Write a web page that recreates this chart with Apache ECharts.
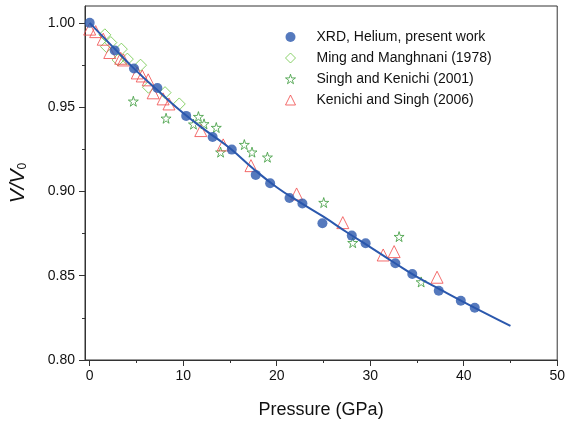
<!DOCTYPE html>
<html><head><meta charset="utf-8">
<script src="https://cdn.jsdelivr.net/npm/echarts@6/dist/echarts.min.js"></script>
<style>html,body{margin:0;padding:0;background:#fff}#c{width:568px;height:427px}</style>
</head><body><div id="c"></div>
<script>
// XRD, Helium, present work
const xrdP = [0, 2.68, 4.74, 7.24, 10.32, 13.15, 15.20, 17.76, 19.30, 21.37, 22.75, 24.89, 28.03, 29.51, 32.69, 34.50, 37.33, 39.69, 41.18];
const xrdV = [1.000, 0.9836, 0.9729, 0.9614, 0.9448, 0.9323, 0.9248, 0.9098, 0.9049, 0.8961, 0.8928, 0.8811, 0.8738, 0.8693, 0.8574, 0.8510, 0.8411, 0.8352, 0.8310];
// Fitted curve
const fitP = [0, 2.5, 5, 7.5, 10, 12.5, 15, 17.5, 20, 22.5, 25, 27.5, 30, 32.5, 35, 37.5, 40, 42.5, 45];
const fitV = [1.000, 0.9856, 0.9715, 0.9588, 0.9465, 0.9358, 0.9256, 0.9135, 0.9025, 0.8935, 0.8850, 0.8758, 0.8670, 0.8580, 0.8493, 0.8418, 0.8344, 0.8272, 0.8202];
// Ming and Manghnani (1978)
const mingP = [1.62, 2.26, 1.80, 3.39, 3.04, 4.03, 5.44, 6.29, 8.06, 9.58];
const mingV = [0.9929, 0.9883, 0.9859, 0.9844, 0.9780, 0.9785, 0.9749, 0.9618, 0.9586, 0.9519];
// Singh and Kenichi (2001)
const singhP = [4.67, 8.17, 11.63, 11.10, 12.23, 13.54, 14.00, 16.54, 17.36, 19.01, 25.03, 28.13, 33.09, 35.45];
const singhV = [0.9535, 0.9434, 0.9444, 0.9399, 0.9401, 0.9379, 0.9233, 0.9278, 0.9233, 0.9203, 0.8934, 0.8696, 0.8732, 0.8463];
// Kenichi and Singh (2006)
const kenP = [0, 0.64, 1.45, 2.15, 3.32, 3.61, 5.09, 5.62, 6.26, 6.79, 7.85, 8.48, 11.88, 14.28, 17.25, 22.13, 27.07, 31.39, 32.56, 37.15];
const kenV = [0.9963, 0.9948, 0.9903, 0.9824, 0.9790, 0.9780, 0.9703, 0.9685, 0.9662, 0.9585, 0.9549, 0.9519, 0.9361, 0.9276, 0.9153, 0.8985, 0.8815, 0.8623, 0.8643, 0.8491];

const xMajor = [0, 10, 20, 30, 40, 50];
const xMinor = [5, 15, 25, 35, 45];
const yMajor = [0.80, 0.85, 0.90, 0.95, 1.00];
const yMinor = [0.825, 0.875, 0.925, 0.975];

const names = ['XRD, Helium, present work', 'Ming and Manghnani (1978)', 'Singh and Kenichi (2001)', 'Kenichi and Singh (2006)'];
const zip = (a, b) => a.map((v, i) => [v, b[i]]);
const STAR = 'path://M50,0 L61,35 L98,35 L68,57 L79,91 L50,70 L21,91 L32,57 L2,35 L39,35 Z';
const blue = '#2b58ad', lgreen = '#6cc644', dgreen = '#3a9a3a', red = '#f04848';
const font = 'Liberation Sans, Arial, sans-serif';
const hollow = c => ({color: 'rgba(0,0,0,0)', borderColor: c, borderWidth: 1});

const chart = echarts.init(document.getElementById('c'));
const common = {min: -0.5, max: 50, splitLine: {show: false}};
chart.setOption({
  animation: false,
  grid: {left: 83, right: 9, top: 6, bottom: 67, show: true, borderColor: '#333', borderWidth: 1, backgroundColor: 'transparent'},
  legend: {
    orient: 'vertical', left: 280, top: 25, itemWidth: 10, itemHeight: 10, itemGap: 7,
    formatter: n => '{a|' + n + '}',
    textStyle: {fontFamily: font, fontSize: 14, color: '#111', rich: {a: {fontFamily: font, fontSize: 14, color: '#111', padding: [0, 0, 0, 16]}}},
    data: [
      {name: names[0], icon: 'circle', itemStyle: {color: blue}},
      {name: names[1], icon: 'diamond', itemStyle: hollow(lgreen)},
      {name: names[2], icon: STAR, itemStyle: hollow(dgreen)},
      {name: names[3], icon: 'triangle', itemStyle: hollow(red)}
    ]
  },
  xAxis: [
    Object.assign({type: 'value', position: 'bottom',
      name: 'Pressure (GPa)', nameLocation: 'middle', nameGap: 41,
      nameTextStyle: {fontFamily: font, fontSize: 18, color: '#111'},
      axisLine: {show: true, onZero: false, lineStyle: {color: '#333', width: 1}},
      axisTick: {show: true, inside: false, length: 6, lineStyle: {color: '#333'}, customValues: xMajor},
      axisLabel: {fontFamily: font, fontSize: 14, color: '#111', margin: 9, customValues: xMajor}
    }, common),
    Object.assign({type: 'value', position: 'bottom', gridIndex: 0,
      axisLine: {show: false, onZero: false},
      axisTick: {show: true, length: 3, lineStyle: {color: '#333'}, customValues: xMinor},
      axisLabel: {show: false}
    }, common)
  ],
  yAxis: [
    {type: 'value', min: 0.80, max: 1.01, splitLine: {show: false},
      name: '{i|V/V}{s|0}', nameLocation: 'middle', nameGap: 56, nameRotate: 90,
      nameTextStyle: {rich: {
        i: {fontFamily: font, fontSize: 21, fontStyle: 'italic', color: '#111'},
        s: {fontFamily: font, fontSize: 12, color: '#111', verticalAlign: 'bottom', padding: [8, 0, 0, 0]}
      }},
      axisLine: {show: true, onZero: false, lineStyle: {color: '#333', width: 1}},
      axisTick: {show: true, length: 6, lineStyle: {color: '#333'}, customValues: yMajor},
      axisLabel: {fontFamily: font, fontSize: 14, color: '#111', margin: 10, customValues: yMajor,
        formatter: v => v.toFixed(2)}
    },
    {type: 'value', min: 0.80, max: 1.01, position: 'left', splitLine: {show: false},
      axisLine: {show: false, onZero: false},
      axisTick: {show: true, length: 3, lineStyle: {color: '#333'}, customValues: yMinor},
      axisLabel: {show: false}
    }
  ],
  series: [
    {name: 'fit', type: 'line', data: zip(fitP, fitV), smooth: true, showSymbol: false, symbol: 'none',
      lineStyle: {color: blue, width: 2}, z: 3},
    {name: names[1], type: 'scatter', data: zip(mingP, mingV), symbol: 'diamond', symbolSize: 12,
      itemStyle: hollow(lgreen), z: 2},
    {name: names[2], type: 'scatter', data: zip(singhP, singhV), symbol: STAR, symbolSize: 10,
      itemStyle: hollow(dgreen), z: 2},
    {name: names[3], type: 'scatter', data: zip(kenP, kenV), symbol: 'triangle', symbolSize: 12,
      itemStyle: hollow(red), z: 2},
    {name: names[0], type: 'scatter', data: zip(xrdP, xrdV), symbol: 'circle', symbolSize: 10,
      itemStyle: {color: blue}, z: 4}
  ]
});
</script></body></html>
